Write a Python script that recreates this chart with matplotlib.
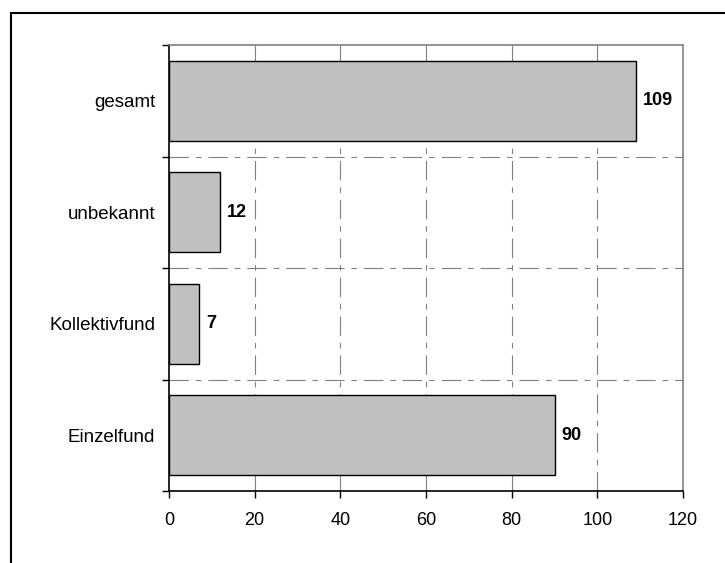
import matplotlib
matplotlib.use("Agg")
import matplotlib.pyplot as plt
from matplotlib.patches import Rectangle

categories = ["Einzelfund", "Kollektivfund", "unbekannt", "gesamt"]
values = [90, 7, 12, 109]
x_ticks = [0, 20, 40, 60, 80, 100, 120]

plt.rcParams["font.family"] = ["Liberation Sans", "DejaVu Sans"]
plt.rcParams["lines.scale_dashes"] = False

fig = plt.figure(figsize=(7.25, 5.63), dpi=100)
ax = fig.add_axes([169 / 725, 72 / 563, 514 / 725, 446 / 563])

pos = list(range(len(categories)))
ax.barh(pos, values, height=0.72, color="#c0c0c0", edgecolor="black",
        linewidth=1.0, zorder=3)

for p, v in zip(pos, values):
    ax.annotate(str(v), (v, p), xytext=(5, 0), textcoords="offset points",
                ha="left", va="center", fontsize=13, fontweight="bold")

ax.set_xlim(0, 120)
ax.set_ylim(-0.5, len(categories) - 0.5)
ax.set_xticks(x_ticks)
ax.set_xticklabels([str(t) for t in x_ticks])

# ticks on the category boundaries, labels centred on the bars
ax.set_yticks([p - 0.5 for p in pos] + [len(categories) - 0.5])
ax.set_yticklabels([])
ax.set_yticks(pos, minor=True)
ax.set_yticklabels(categories, minor=True)
ax.tick_params(axis="y", which="minor", length=0, pad=10, labelsize=13.5)
ax.tick_params(axis="y", which="major", direction="out", length=5, width=1)
ax.tick_params(axis="x", direction="out", length=5, width=1, pad=10, labelsize=13)

dash = (0, (14, 5, 4, 5))
for t in x_ticks[1:-1]:
    ax.axvline(t, color="#808080", lw=0.8, ls=dash, zorder=1)
for b in [p + 0.5 for p in pos[:-1]]:
    ax.axhline(b, color="#808080", lw=0.8, ls=dash, zorder=1)

for s in ["left", "bottom"]:
    ax.spines[s].set_color("black")
    ax.spines[s].set_linewidth(1.2)
for s in ["top", "right"]:
    ax.spines[s].set_color("#808080")
    ax.spines[s].set_linewidth(1.2)

# outer chart frame, running off the right and bottom edges
fig.patches.append(Rectangle((11 / 725, -0.1), 1.2, (563 - 13) / 563 + 0.1,
                             transform=fig.transFigure, fill=False,
                             edgecolor="black", linewidth=1.5))

fig.savefig("out.png", dpi=100)
